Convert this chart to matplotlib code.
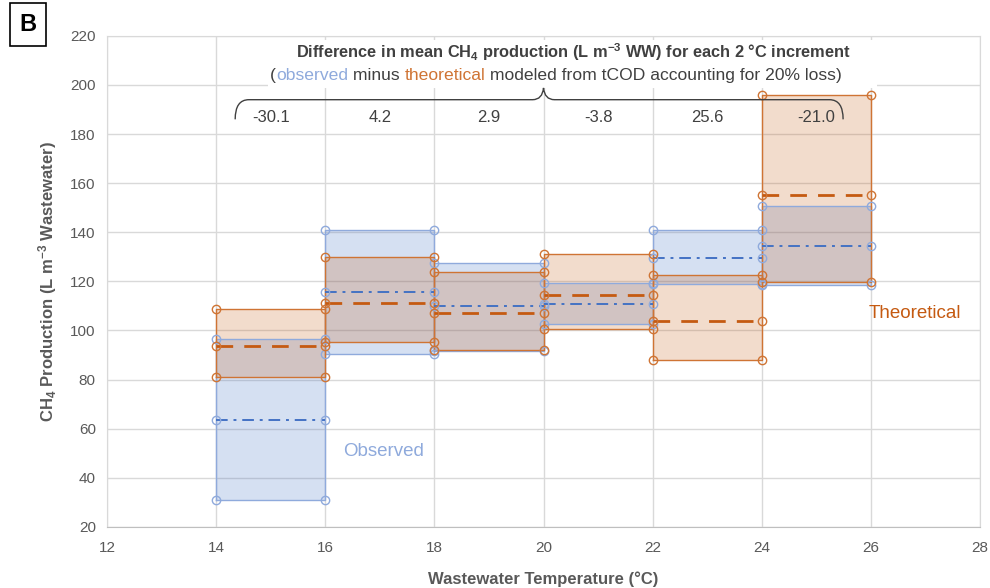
import numpy as np
import matplotlib.pyplot as plt
from matplotlib.path import Path
from matplotlib.patches import PathPatch, Rectangle

plt.rcParams['font.family'] = ['Liberation Sans', 'DejaVu Sans']
plt.rcParams['mathtext.default'] = 'regular'

# bins of 2 degC, left edges
t_left = [14, 16, 18, 20, 22, 24]
bin_w = 2

obs_min = [30.8, 90.6, 91.8, 102.7, 118.8, 118.4]
obs_mean = [63.5, 115.5, 109.9, 110.8, 129.6, 134.3]
obs_max = [96.7, 140.9, 127.6, 119.2, 140.8, 150.8]

theo_min = [81.0, 95.2, 92.0, 100.4, 87.8, 119.8]
theo_mean = [93.6, 111.3, 107.0, 114.6, 104.0, 155.3]
theo_max = [108.9, 130.1, 124.0, 131.3, 122.7, 195.9]

blue = '#4472C4'
blue_edge = '#8FAADC'
orange = '#C55A11'
orange_edge = '#CF7434'
txt_gray = '#595959'
dark = '#404040'


def draw_box(axh, x0, lo, mid, hi, face, edge, line_c, ls, lw_mid, alpha):
    x1 = x0 + bin_w
    axh.fill_between([x0, x1], [lo, lo], [hi, hi], color=face, alpha=alpha, lw=0, zorder=2)
    axh.plot([x0, x1, x1, x0, x0], [lo, lo, hi, hi, lo], '-', color=edge, lw=1.0, zorder=3)
    axh.plot([x0, x1, x1, x0], [lo, lo, hi, hi], 'o', ms=6, mfc='none', mec=edge, mew=1.0, zorder=4)
    axh.plot([x0, x1], [mid, mid], ls=ls, color=line_c, lw=lw_mid, zorder=4)
    axh.plot([x0, x1], [mid, mid], 'o', ms=6, mfc='none', mec=edge, mew=1.0, zorder=4)


fh = plt.figure(figsize=(9.9, 5.88), dpi=100)
ax = fh.add_axes([0.108, 0.104, 0.882, 0.835])

for i in range(len(t_left)):
    draw_box(ax, t_left[i], obs_min[i], obs_mean[i], obs_max[i], blue, blue_edge, blue,
             (0, (6, 3, 1.5, 3)), 1.4, 0.22)
for i in range(len(t_left)):
    draw_box(ax, t_left[i], theo_min[i], theo_mean[i], theo_max[i], orange, orange_edge, orange,
             (0, (6, 4)), 2.0, 0.21)

ax.set_xlim(12, 28)
ax.set_ylim(20, 220)
ax.set_xticks(np.arange(12, 29, 2))
ax.set_yticks(np.arange(20, 221, 20))
ax.grid(True, color='#D9D9D9', lw=1.0)
ax.set_axisbelow(True)
for s in ax.spines.values():
    s.set_color('#D9D9D9')
ax.spines['bottom'].set_color('#BFBFBF')
ax.tick_params(length=0, labelsize=11, labelcolor=txt_gray, pad=8)
ax.tick_params(axis='x', pad=10)

ax.set_xlabel('Wastewater Temperature (°C)', fontsize=12, fontweight='bold', color=txt_gray, labelpad=12)
ax.set_ylabel('CH$_4$ Production (L m$^{-3}$ Wastewater)', fontsize=12, fontweight='bold',
              color=txt_gray, labelpad=8)

# white box behind the header text
ax.add_patch(Rectangle((0.184, 0.894), 0.698, 0.098, transform=ax.transAxes,
                       facecolor='white', edgecolor='none', zorder=1))

fh.text(0.579, 0.902, 'Difference in mean CH$_4$ production (L m$^{-3}$ WW) for each 2 °C increment',
        ha='center', va='baseline', fontsize=11.8, fontweight='bold', color=dark)

parts = [('(', dark), ('observed', blue_edge), (' minus ', dark), ('theoretical', orange_edge),
         (' modeled from tCOD accounting for 20% loss)', dark)]
prev = fh.text(0.2727, 0.859, parts[0][0], ha='left', va='bottom', fontsize=12.6, color=parts[0][1])
for s, c in parts[1:]:
    prev = ax.annotate(s, xy=(1, 0), xycoords=prev, ha='left', va='bottom', fontsize=12.6, color=c)

# brace over the difference labels
xl = t_left[0] + 0.35
xr = t_left[-1] + bin_w - 0.51
xc = 20.0
yb, yh, yc = 186.0, 194.0, 198.8
verts = [(xl, yb), (xl, yh), (xl + 0.25, yh),
         (xc - 0.2, yh),
         (xc - 0.02, yh), (xc, yc),
         (xc + 0.02, yh), (xc + 0.2, yh),
         (xr - 0.25, yh),
         (xr, yh), (xr, yb)]
codes = [Path.MOVETO, Path.CURVE3, Path.CURVE3,
         Path.LINETO,
         Path.CURVE3, Path.CURVE3,
         Path.CURVE3, Path.CURVE3,
         Path.LINETO,
         Path.CURVE3, Path.CURVE3]
ax.add_patch(PathPatch(Path(verts, codes), facecolor='none', edgecolor=dark, lw=1.0, zorder=6))

for i in range(len(t_left)):
    d = obs_mean[i] - theo_mean[i]
    ax.text(t_left[i] + bin_w / 2, 186.8, '%.1f' % d, ha='center', va='center',
            fontsize=12, color=dark, zorder=7)

ax.text(17.06, 50.5, 'Observed', ha='center', va='center', fontsize=13.5, color=blue_edge)
ax.text(26.81, 106.8, 'Theoretical', ha='center', va='center', fontsize=13.5, color=orange)

fh.text(0.0283, 0.958, 'B', ha='center', va='center', fontsize=17, fontweight='bold', color='black',
        bbox=dict(boxstyle='square,pad=0.42', facecolor='white', edgecolor='black', lw=1.2))

fh.savefig('out.png', dpi=100)
